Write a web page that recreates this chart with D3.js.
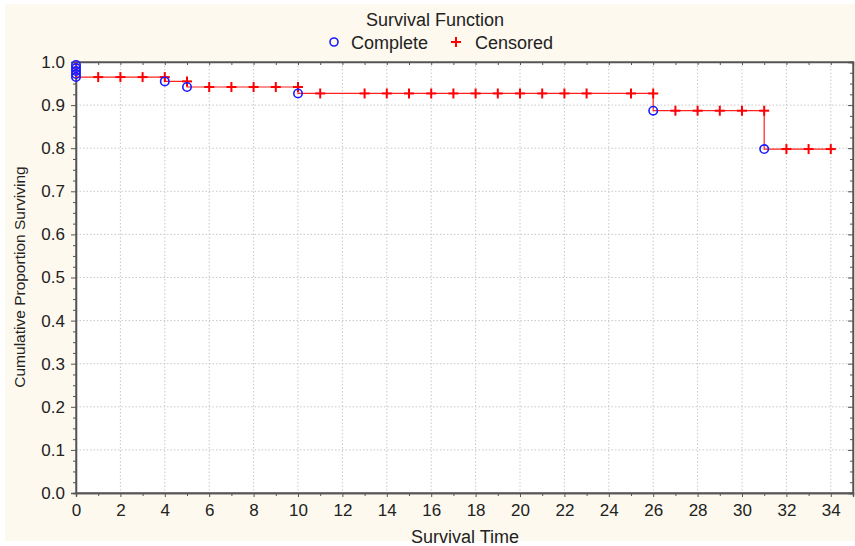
<!DOCTYPE html>
<html><head><meta charset="utf-8">
<script src="https://cdn.jsdelivr.net/npm/d3@7"></script>
<style>body{margin:0;background:#fff;} svg{display:block;font-family:"Liberation Sans",Arial,sans-serif;}</style>
</head><body><svg id="c" width="855" height="546"></svg>
<script>
// Kaplan-Meier step levels: [start time, end time, proportion]
const stepStarts = [0, 4, 5, 10, 26, 31];
const stepEnds   = [4, 5, 10, 26, 31, 34];
const stepLevels = [0.965, 0.955, 0.942, 0.927, 0.887, 0.798];
// Complete (event) observations
const completeTimes  = [0, 0, 0, 0, 0, 4, 5, 10, 26, 31];
const completeValues = [0.993, 0.986, 0.979, 0.972, 0.965, 0.955, 0.942, 0.927, 0.887, 0.798];
// Censored observations
const censoredTimes  = [1, 2, 3, 4, 5, 6, 7, 8, 9, 10, 11, 13, 14, 15, 16, 17, 18, 19, 20, 21, 22, 23, 25, 26, 27, 28, 29, 30, 31, 32, 33, 34];
const censoredValues = [0.965, 0.965, 0.965, 0.965, 0.955, 0.942, 0.942, 0.942, 0.942, 0.942, 0.927, 0.927, 0.927, 0.927, 0.927, 0.927, 0.927, 0.927, 0.927, 0.927, 0.927, 0.927, 0.927, 0.927, 0.887, 0.887, 0.887, 0.887, 0.887, 0.798, 0.798, 0.798];
const xTicks = [0,2,4,6,8,10,12,14,16,18,20,22,24,26,28,30,32,34];
const yTicks = [0,0.1,0.2,0.3,0.4,0.5,0.6,0.7,0.8,0.9,1.0];

const svg = d3.select("#c");
svg.append("rect").attr("x",5).attr("y",4).attr("width",850).attr("height",537).attr("fill","#fdf9ee");

const L=76, R=853, T=62, B=493;
const x = d3.scaleLinear().domain([0,35]).range([L,R]);
const y = d3.scaleLinear().domain([0,1]).range([B,T]);

svg.append("rect").attr("x",L).attr("y",T).attr("width",R-L).attr("height",B-T).attr("fill","#fff");

// grid
const g = svg.append("g");
g.selectAll(".gx").data(xTicks.filter(d=>d>0)).join("line")
  .attr("x1",d=>x(d)).attr("x2",d=>x(d)).attr("y1",T).attr("y2",B)
  .attr("stroke","#c8c8c8").attr("stroke-dasharray","1.5,2").attr("stroke-width",1);
g.selectAll(".gy").data(yTicks.filter(d=>d>0 && d<1)).join("line")
  .attr("y1",d=>y(d)).attr("y2",d=>y(d)).attr("x1",L).attr("x2",R)
  .attr("stroke","#c8c8c8").attr("stroke-dasharray","1.5,2").attr("stroke-width",1);

// axes
const xAxis = d3.axisBottom(x).tickValues(xTicks).tickFormat(d3.format("d")).tickSize(4).tickPadding(7);
svg.append("g").attr("transform",`translate(0,${B})`).call(xAxis);
const xMinor = d3.axisBottom(x).tickValues(d3.range(1,35,2)).tickFormat("").tickSize(3);
svg.append("g").attr("transform",`translate(0,${B})`).call(xMinor);
const yAxis = d3.axisLeft(y).tickValues(yTicks).tickFormat(d3.format(".1f")).tickSize(5).tickPadding(6);
svg.append("g").attr("transform",`translate(${L},0)`).call(yAxis);
const yMinorVals = d3.range(0,41).map(i=>i*0.025).filter((d,i)=>i%4!==0);
svg.append("g").attr("transform",`translate(${L},0)`).call(d3.axisLeft(y).tickValues(yMinorVals).tickFormat("").tickSize(3));
svg.append("g").attr("transform",`translate(${R},0)`).call(d3.axisRight(y).tickValues(yTicks).tickFormat("").tickSize(-5));
svg.append("g").attr("transform",`translate(${R},0)`).call(d3.axisRight(y).tickValues(yMinorVals).tickFormat("").tickSize(-3));
svg.append("g").attr("transform",`translate(0,${T})`).call(d3.axisTop(x).tickValues(d3.range(0,35)).tickFormat("").tickSize(-3));
svg.selectAll(".domain").attr("stroke","#555").attr("stroke-width",1.3);
svg.selectAll(".tick line").attr("stroke","#555");
svg.selectAll(".tick text").attr("font-size",17).attr("fill","#222").attr("font-family","Liberation Sans, Arial, sans-serif");
svg.append("rect").attr("x",L).attr("y",T).attr("width",R-L).attr("height",B-T).attr("fill","none").attr("stroke","#555").attr("stroke-width",1.3);

// step line
let pts = [[x(0), y(1)]];
stepStarts.forEach((s,i)=>{ pts.push([x(s), y(stepLevels[i])]); pts.push([x(stepEnds[i]), y(stepLevels[i])]); });
svg.append("path").attr("d", d3.line()(pts)).attr("fill","none").attr("stroke","#ff2020").attr("stroke-width",1.2);

// censored +
const cs = svg.append("g").attr("stroke","#ff0000").attr("stroke-width",2);
censoredTimes.forEach((t,i)=>{
  const cx=x(t), cy=y(censoredValues[i]);
  cs.append("line").attr("x1",cx-5).attr("x2",cx+5).attr("y1",cy).attr("y2",cy);
  cs.append("line").attr("x1",cx).attr("x2",cx).attr("y1",cy-5).attr("y2",cy+5);
});
// complete circles
svg.append("g").selectAll("circle").data(completeTimes).join("circle")
  .attr("cx",d=>x(d)).attr("cy",(d,i)=>y(completeValues[i])).attr("r",4.2)
  .attr("fill","none").attr("stroke","#1a1aff").attr("stroke-width",1.6);

// titles
svg.append("text").attr("x",435).attr("y",26).attr("text-anchor","middle").attr("font-size",18).attr("fill","#222").text("Survival Function");
const lg = svg.append("g");
lg.append("circle").attr("cx",334).attr("cy",42).attr("r",4).attr("fill","none").attr("stroke","#1a1aff").attr("stroke-width",1.6);
lg.append("text").attr("x",351).attr("y",49).attr("font-size",18).attr("fill","#222").text("Complete");
lg.append("line").attr("x1",451).attr("x2",461).attr("y1",42).attr("y2",42).attr("stroke","#ff0000").attr("stroke-width",2);
lg.append("line").attr("x1",456).attr("x2",456).attr("y1",37).attr("y2",47).attr("stroke","#ff0000").attr("stroke-width",2);
lg.append("text").attr("x",475).attr("y",49).attr("font-size",18).attr("fill","#222").text("Censored");
svg.append("text").attr("x",465).attr("y",543).attr("text-anchor","middle").attr("font-size",18).attr("fill","#222").text("Survival Time");
svg.append("text").attr("transform","translate(25,277) rotate(-90)").attr("text-anchor","middle").attr("font-size",15.5).attr("fill","#222").text("Cumulative Proportion Surviving");
</script></body></html>
